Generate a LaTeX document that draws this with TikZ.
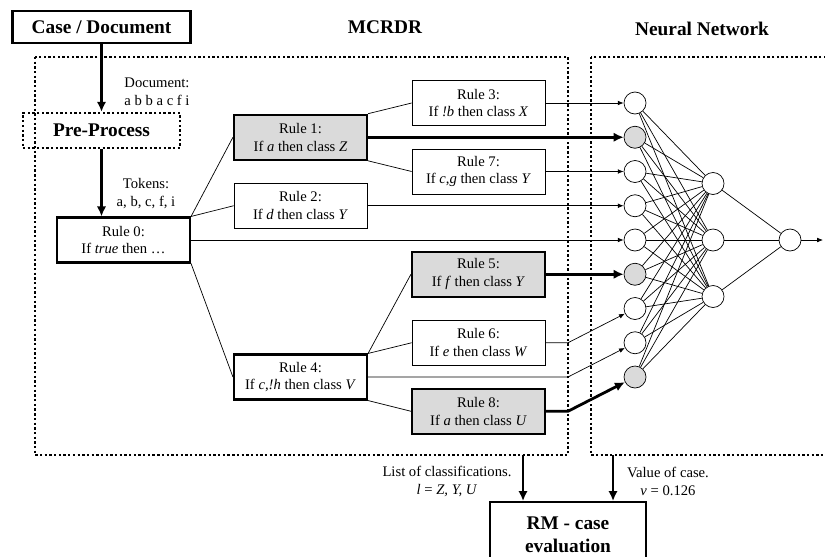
\documentclass[tikz,border=0pt]{standalone}
\usepackage{fontspec}
\setmainfont{Liberation Serif}
\usetikzlibrary{arrows.meta}

\definecolor{firedgray}{RGB}{218,218,218}
\newcommand{\rulefont}{\fontsize{12.5}{15.3}\selectfont}
\newcommand{\headfont}{\fontsize{16.5}{19.5}\selectfont\bfseries}

\begin{document}
\begin{tikzpicture}[x=0.03cm,y=-0.03cm,
    rulebox/.style={draw,fill=white,line width=0.6pt,minimum width=3.99cm,
      minimum height=1.35cm,inner sep=0pt,align=center,font=\rulefont},
    rootbox/.style={rulebox,line width=1.8pt},
    firedbox/.style={rulebox,line width=1.8pt,fill=firedgray},
    headbox/.style={draw,line width=1.8pt,inner sep=0pt,align=center,font=\headfont},
    dotline/.style={line width=2pt,dash pattern=on 2pt off 2pt},
    lbl/.style={align=center,font=\rulefont,inner sep=0pt},
    head/.style={font=\headfont,inner sep=0pt},
    unit/.style={circle,draw,line width=0.6pt,minimum size=0.66cm,inner sep=0pt},
    link/.style={line width=0.6pt},
    wire/.style={line width=0.6pt,-{Latex[length=5pt,width=4pt]}},
    fire/.style={line width=2.4pt,-{Latex[length=8.5pt,width=8pt]}}]
  \clip (0,0) rectangle (825,556);
  \useasboundingbox (0,0) rectangle (825,556);

  % frames
  \draw[dotline] (35,57) rectangle (568,455);
  \draw[dotline] (591,57) rectangle (840,455);
  \coordinate (edge) at (568,0);
  \coordinate (mcrdrout) at (523,455);
  \coordinate (nnout) at (613,455);
  \node[head] (mcrdr) at (385,27) {MCRDR};
  \node[head] (nn) at (702,29) {Neural Network};

  % input side
  \node[headbox,minimum width=5.34cm,minimum height=0.96cm] (case) at (101.5,27) {Case / Document};
  \node[headbox,dotline,minimum width=4.71cm,minimum height=1.05cm] (pre) at (101.5,130.5) {Pre-Process};
  \node[lbl] (doclbl) at (157,92) {Document:\\a b b a c f i};
  \node[lbl] (toklbl) at (146,194) {Tokens:\\a, b, c, f, i};

  % rules
  \node[rootbox] (r0) at (123.5,240) {Rule 0:\\If \textit{true} then \dots};
  \node[firedbox] (r1) at (300.5,137.25) {Rule 1:\\If \textit{a} then class \textit{Z}};
  \node[rulebox] (r2) at (300.5,205.75) {Rule 2:\\If \textit{d} then class \textit{Y}};
  \node[rulebox] (r3) at (478.5,103) {Rule 3:\\If \textit{!b} then class \textit{X}};
  \node[rulebox] (r7) at (478.5,171.5) {Rule 7:\\If \textit{c},\textit{g} then class \textit{Y}};
  \node[firedbox] (r5) at (478.5,274.25) {Rule 5:\\If \textit{f} then class \textit{Y}};
  \node[rulebox] (r6) at (478.5,342.75) {Rule 6:\\If \textit{e} then class \textit{W}};
  \node[rootbox] (r4) at (300.5,377) {Rule 4:\\If \textit{c},\textit{!h} then class \textit{V}};
  \node[firedbox] (r8) at (478.5,411.25) {Rule 8:\\If \textit{a} then class \textit{U}};

  \draw[fire] (case) -- (pre);
  \draw[fire] (pre.south) -- (pre.south |- r0.north);

  \draw[link] (r0.north east) -- (r1.west);
  \draw[link] (r0.north east) -- (r2.west);
  \draw[link] (r0.south east) -- (r4.west);
  \draw[link] (r1.north east) -- (r3.west);
  \draw[link] (r1.south east) -- (r7.west);
  \draw[link] (r4.north east) -- (r5.west);
  \draw[link] (r4.north east) -- (r6.west);
  \draw[link] (r4.south east) -- (r8.west);

  % network
  \foreach \i/\c in {1/white,2/firedgray,3/white,4/white,5/white,6/firedgray,7/white,8/white,9/firedgray}
    \node[unit,fill=\c] (in\i) at (635,{68.75+34.25*\i}) {};
  \foreach \h/\y in {1/183.5,2/240,3/296.5}
    \node[unit] (hid\h) at (713,\y) {};
  \node[unit] (out) at (790,240) {};
  \coordinate (nnend) at (823,240);
  \foreach \i in {1,...,9}
    \foreach \h in {1,2,3}
      \draw[link] (in\i) -- (hid\h);
  \foreach \h in {1,2,3}
    \draw[link] (hid\h) -- (out);
  \draw[wire] (out) -- (nnend);

  \draw[wire] (r3) -- (in1);
  \draw[fire] (r1) -- (in2);
  \draw[wire] (r7) -- (in3);
  \draw[wire] (r2) -- (in4);
  \draw[wire] (r0) -- (in5);
  \draw[fire] (r5) -- (in6);
  \draw[wire] (r6.east) -- (r6.east -| edge) -- (in7);
  \draw[wire] (r4.east) -- (r4.east -| edge) -- (in8);
  \draw[fire] (r8.east) -- (r8.east -| edge) -- (in9);

  % evaluation
  \node[headbox,anchor=north,minimum width=4.68cm,minimum height=1.95cm] (rm) at (568,501) {RM - case\\evaluation};
  \node[lbl] (lstlbl) at (447,481) {List of classifications.\\\textit{l} = \textit{Z, Y, U}};
  \node[lbl] (vallbl) at (668,481) {Value of case.\\\textit{v} = 0.126};
  \draw[fire] (mcrdrout) -- (mcrdrout |- rm.north);
  \draw[fire] (nnout) -- (nnout |- rm.north);
\end{tikzpicture}
\end{document}
